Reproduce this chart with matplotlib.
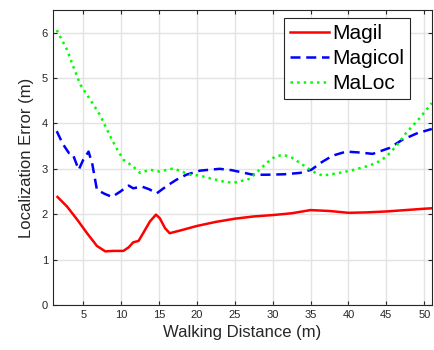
import numpy as np
import matplotlib.pyplot as plt

plt.rcParams['font.family'] = ['Liberation Sans', 'DejaVu Sans']

# Magil (red, solid)
magil_x = [1.6, 2.85, 4.2, 5.5, 6.8, 7.9, 9.0, 10.3, 11.0, 11.6, 12.3, 12.9, 13.8,
           14.6, 15.1, 15.8, 16.4, 17.8, 20, 22.5, 25, 27.5, 30, 32.5, 35, 37.5,
           40, 42.5, 45, 47.5, 50, 51]
magil_y = [2.38, 2.17, 1.88, 1.58, 1.30, 1.18, 1.19, 1.19, 1.27, 1.38, 1.41, 1.58, 1.84,
           1.99, 1.91, 1.69, 1.58, 1.64, 1.74, 1.83, 1.90, 1.95, 1.98, 2.02, 2.09, 2.07,
           2.03, 2.04, 2.06, 2.09, 2.12, 2.13]

# Magicol (blue, dashed)
magicol_x = [1.5, 2.3, 3.1, 3.6, 4.4, 5.0, 5.7, 6.2, 6.8, 7.8, 8.8, 9.9, 11.0, 11.6,
             12.7, 13.7, 14.7, 16.0, 17.3, 18.6, 20.4, 23.0, 24.6, 26.0, 27.4, 29.2,
             31.5, 33.6, 35.1, 36.5, 37.9, 39.7, 41.5, 43.2, 45.4, 47.1, 49.0, 51.0]
magicol_y = [3.83, 3.55, 3.35, 3.33, 2.98, 3.20, 3.38, 3.10, 2.54, 2.45, 2.38, 2.50, 2.63, 2.57,
             2.61, 2.55, 2.46, 2.62, 2.76, 2.87, 2.96, 3.00, 2.97, 2.92, 2.87, 2.87,
             2.88, 2.91, 2.98, 3.15, 3.29, 3.38, 3.36, 3.33, 3.46, 3.64, 3.78, 3.88]

# MaLoc (green, dotted)
maloc_x = [1.5, 2.85, 3.7, 4.6, 5.9, 7.2, 8.55, 9.4, 10.3, 11.6, 12.5, 13.8, 15.1,
           16.9, 19.1, 20.4, 22.0, 23.5, 24.8, 27.0, 29.2, 30.3, 31.4, 32.5, 33.6,
           35.3, 36.6, 38.8, 40.5, 42.3, 43.7, 45.0, 46.3, 47.6, 49.3, 51.0]
maloc_y = [6.06, 5.63, 5.25, 4.86, 4.53, 4.19, 3.72, 3.45, 3.20, 3.05, 2.91, 2.98, 2.94,
           3.01, 2.87, 2.85, 2.78, 2.72, 2.69, 2.78, 3.13, 3.27, 3.31, 3.25, 3.13,
           2.94, 2.85, 2.91, 2.97, 3.05, 3.13, 3.27, 3.50, 3.79, 4.10, 4.45]

xticks = [5, 10, 15, 20, 25, 30, 35, 40, 45, 50]
yticks = [0, 1, 2, 3, 4, 5, 6]

fig = plt.figure(figsize=(4.34, 3.5), dpi=100)
ax = fig.add_axes([0.122, 0.129, 0.873, 0.842])

ax.plot(magil_x, magil_y, '-', color='#ff0000', linewidth=1.8, label='Magil')
ax.plot(magicol_x, magicol_y, '--', color='#0000ff', linewidth=1.8, dashes=(4, 2.3), label='Magicol')
ax.plot(maloc_x, maloc_y, ':', color='#00ff00', linewidth=1.8, label='MaLoc')

ax.set_xlim(1, 51)
ax.set_ylim(0, 6.5)
ax.set_xticks(xticks)
ax.set_yticks(yticks)
ax.grid(True, color='#e3e3e3', linewidth=1.0)
ax.set_axisbelow(True)
ax.tick_params(direction='in', top=True, right=True, length=3, labelsize=8,
               colors='#262626', width=0.8)
for s in ax.spines.values():
    s.set_color('#262626')
    s.set_linewidth(0.8)

ax.set_xlabel('Walking Distance (m)', fontsize=12, color='#262626', labelpad=4)
ax.set_ylabel('Localization Error (m)', fontsize=12, color='#262626', labelpad=6)

leg = ax.legend(loc='upper right', bbox_to_anchor=(410 / 434, 1 - 18 / 350),
                bbox_transform=fig.transFigure, fontsize=15, fancybox=False,
                framealpha=1, edgecolor='#262626', handlelength=1.85,
                handletextpad=0.15, borderpad=0.3, labelspacing=0.28,
                borderaxespad=0)
leg.get_frame().set_linewidth(0.8)

fig.savefig('out.png', dpi=100)
